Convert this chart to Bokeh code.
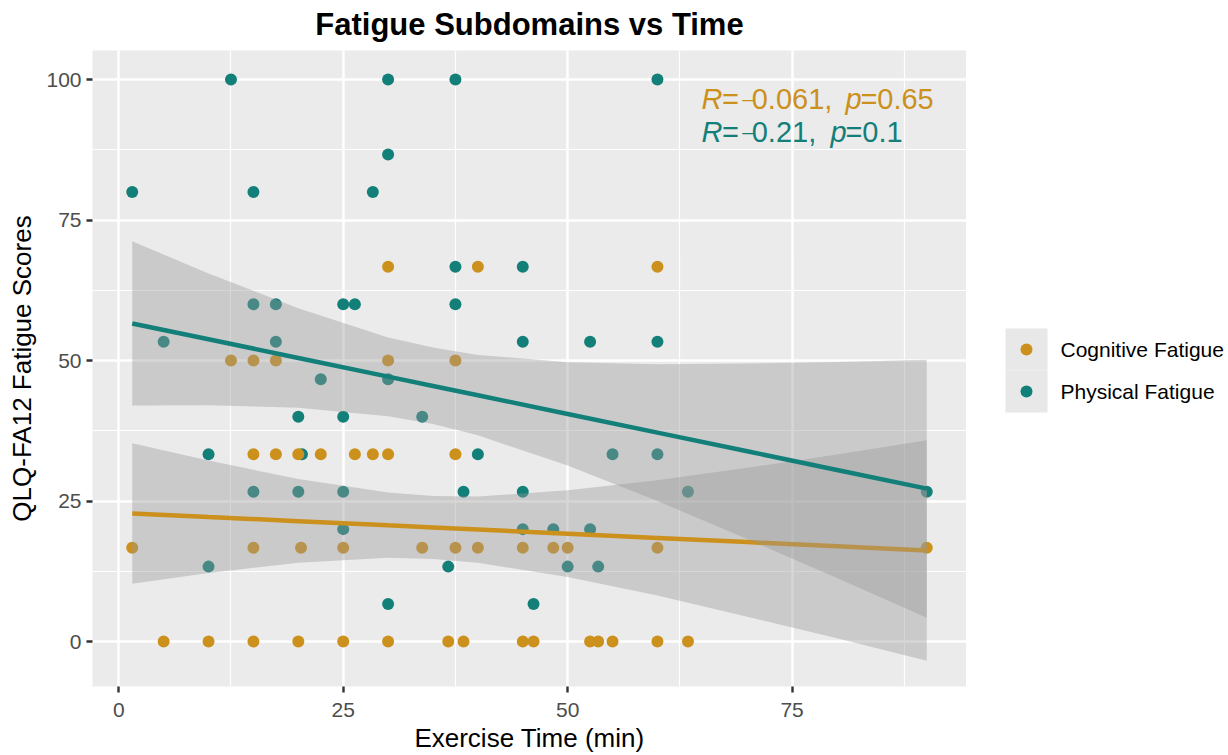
from bokeh.plotting import figure
from bokeh.layouts import row
from bokeh.models import Range1d, SingleIntervalTicker, Label
from bokeh.embed import file_html
from bokeh.resources import INLINE

# ---- data -------------------------------------------------------------
# Cognitive fatigue: exercise time (min) and QLQ-FA12 score
cog_time = [30, 40, 60,
            12.5, 15, 17.5, 30, 37.5,
            15, 17.5, 20, 22.5, 26.3, 28.3, 30, 37.5,
            1.5, 15, 20.3, 25, 33.8, 37.5, 40, 45, 48.4, 50, 60, 90,
            5, 10, 15, 20, 25, 30, 36.7, 38.4, 45, 46.2, 52.5, 53.4, 55, 60, 63.4]
cog_score = [66.67] * 3 + [50] * 5 + [33.33] * 8 + [16.67] * 12 + [0] * 15

# Physical fatigue
phys_time = [12.5, 30, 37.5, 60,
             30,
             1.5, 15, 28.3,
             37.5, 45,
             15, 17.5, 25, 26.3, 37.5,
             5, 17.5, 45, 52.5, 60,
             22.5, 30,
             20, 25, 33.8,
             10, 20.4, 40, 55, 60,
             15, 20, 25, 38.4, 45, 63.4, 90,
             25, 45, 48.4, 52.5,
             10, 36.7, 50, 53.4,
             30, 46.2]
phys_score = ([100] * 4 + [86.67] + [80] * 3 + [66.67] * 2 + [60] * 5 + [53.33] * 5
              + [46.67] * 2 + [40] * 3 + [33.33] * 5 + [26.67] * 7 + [20] * 4
              + [13.33] * 4 + [6.67] * 2)

# Linear fits with 95% confidence bands
band_time = [1.5, 10, 20, 30, 35, 40, 50, 60, 70, 80, 90]
cog_fit = [22.8, 22.16, 21.42, 20.67, 20.3, 19.93, 19.18, 18.43, 17.69, 16.94, 16.2]
cog_lo = [10.3, 12.2, 14.0, 14.9, 14.7, 14.0, 11.5, 8.2, 4.4, 0.6, -3.4]
cog_hi = [35.3, 32.2, 28.9, 26.5, 25.9, 25.8, 26.9, 28.7, 30.9, 33.3, 35.8]
phys_fit = [56.6, 53.78, 50.46, 47.13, 45.47, 43.81, 40.49, 37.17, 33.85, 30.52, 27.2]
phys_lo = [42.0, 42.05, 41.6, 40.1, 38.7, 36.7, 31.3, 25.0, 18.25, 11.3, 4.25]
phys_hi = [71.2, 65.5, 59.3, 54.1, 52.3, 51.0, 49.7, 49.35, 49.45, 49.75, 50.15]

series_names = ["Cognitive Fatigue", "Physical Fatigue"]
r_signs = ["\u2013", "\u2013"]
r_numbers = ["0.061,", "0.21,"]
p_numbers = ["0.65", "0.1"]

COG = "#CC901C"
PHYS = "#137F79"
KEY_BG = "#E8E8E8"
FONT = "Liberation Sans"

W, H = 1228, 755
LEFT, TOP, BOTTOM, LEGEND_W = 92, 50, 66, 262

# ---- main panel -------------------------------------------------------
p = figure(width=W - LEGEND_W, height=H, output_backend="svg", toolbar_location=None,
           x_range=Range1d(-2.925, 94.425), y_range=Range1d(-8.0, 105.16),
           min_border_left=LEFT, min_border_right=0, min_border_top=TOP,
           min_border_bottom=BOTTOM)
p.background_fill_color = "#EBEBEB"
p.border_fill_color = "white"
p.outline_line_color = None

p.title.text = "Fatigue Subdomains vs Time"
p.title.align = "center"
p.title.vertical_align = "top"
p.title.standoff = 13
p.title.text_font = FONT
p.title.text_font_size = "31px"
p.title.text_font_style = "bold"
p.title.text_color = "black"

for ax in (p.xaxis[0], p.yaxis[0]):
    ax.ticker = SingleIntervalTicker(interval=25, num_minor_ticks=2)
    ax.axis_line_color = None
    ax.major_tick_line_color = "#333333"
    ax.major_tick_line_width = 2.4
    ax.major_tick_out = 6
    ax.major_tick_in = 0
    ax.minor_tick_line_color = None
    ax.major_label_text_font = FONT
    ax.major_label_text_font_size = "21px"
    ax.major_label_text_color = "#4D4D4D"
    ax.major_label_standoff = 5
    ax.axis_label_text_font = FONT
    ax.axis_label_text_font_size = "26px"
    ax.axis_label_text_font_style = "normal"
    ax.axis_label_text_color = "black"

p.xaxis.axis_label = "Exercise Time (min)"
p.xaxis.major_label_standoff = 10
p.xaxis.major_label_text_line_height = 1.0
p.xaxis.axis_label_text_line_height = 1.0
p.xaxis.axis_label_standoff = 3
p.yaxis.axis_label = "QLQ-FA12 Fatigue Scores"
p.yaxis.axis_label_standoff = 6

for g in (p.xgrid[0], p.ygrid[0]):
    g.grid_line_color = "white"
    g.grid_line_width = 2.4
    g.minor_grid_line_color = "white"
    g.minor_grid_line_width = 1.2

# points
p.scatter(phys_time, phys_score, size=12, fill_color=PHYS, line_color=None)
p.scatter(cog_time, cog_score, size=12, fill_color=COG, line_color=None)

# fitted lines and confidence bands
p.varea(x=band_time, y1=cog_lo, y2=cog_hi, fill_color="#999999", fill_alpha=0.4)
p.line(band_time, cog_fit, line_color=COG, line_width=4.5)
p.varea(x=band_time, y1=phys_lo, y2=phys_hi, fill_color="#999999", fill_alpha=0.4)
p.line(band_time, phys_fit, line_color=PHYS, line_width=4.5)

# correlation annotations, one piece of text per symbol
for i, (col, ybase) in enumerate(zip((COG, PHYS), (96.45, 90.63))):
    p_left = 80.94 if i == 0 else 79.27
    pieces = [
        ("R", 64.92, "italic", "29px"),
        ("=", 67.19, "normal", "29px"),
        (r_signs[i], 69.45, "normal", "20px"),
        (r_numbers[i], 70.5, "normal", "29px"),
        ("p", p_left, "italic", "29px"),
        ("=", p_left + 1.69, "normal", "29px"),
        (p_numbers[i], p_left + 3.55, "normal", "29px"),
    ]
    for txt, xpos, style, size in pieces:
        p.add_layout(Label(x=xpos, y=ybase, text=txt, text_font=FONT,
                           text_font_size=size, text_font_style=style,
                           text_color=col, text_baseline="alphabetic"))

# ---- legend panel (window pixels measured from the bottom edge) ----------
# its frame lines up with the main frame, so the y range spans the same rows
key_left, key_top, key_size = 39, H - 328, 42
lg = figure(width=LEGEND_W, height=H, output_backend="svg", toolbar_location=None,
            x_range=Range1d(0, LEGEND_W), y_range=Range1d(BOTTOM + 3, H - TOP),
            min_border=0, x_axis_location=None, y_axis_location=None)
lg.grid.visible = False
lg.outline_line_color = None
lg.background_fill_color = "white"
lg.border_fill_color = "white"

n = len(series_names)
key_cx = key_left + key_size / 2
key_cy = [key_top - (i + 0.5) * key_size for i in range(n)]
lg.rect(x=[key_cx] * n, y=key_cy, width=key_size, height=key_size,
        fill_color=KEY_BG, line_color=None)
lg.scatter(x=[key_cx] * n, y=key_cy, size=12, fill_color=[COG, PHYS], line_color=None)
lg.text(x=[key_left + key_size + 13] * n, y=key_cy, text=series_names,
        text_font={"value": FONT}, text_font_size="21px", text_color="black",
        text_baseline="middle", text_align="left")

layout = row(p, lg)
open("out.html", "w").write(file_html(layout, INLINE))
